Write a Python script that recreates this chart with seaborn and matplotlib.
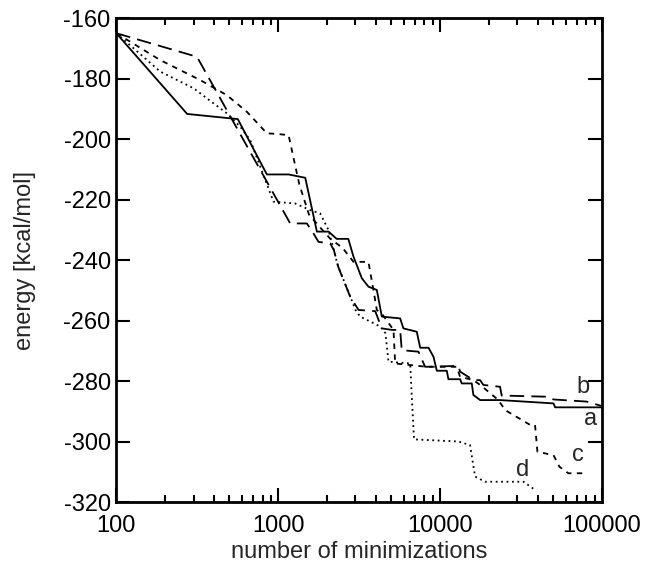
import numpy as np
import pandas as pd
import matplotlib
matplotlib.use("Agg")
import matplotlib.pyplot as plt
from matplotlib.ticker import FixedLocator, FixedFormatter, LogLocator, NullFormatter
import seaborn as sns

# run a (solid)
a_x = [100, 274, 563, 851, 1159, 1469, 1733, 2046, 2296, 2710, 2917, 3283, 3607, 4064,
       4364, 5663, 5932, 7172, 7530, 8478, 9098, 9540, 10990, 11250, 13280, 13600,
       15680, 16040, 17660, 23450, 50120, 51300, 100000]
a_y = [-165, -191.7, -193.4, -211.7, -211.7, -212.8, -230.6, -230.6, -233, -233, -238.9,
       -246, -248.8, -249.9, -258.7, -259.3, -262.6, -263.7, -269, -269, -272, -276.6,
       -276.6, -279.4, -279.4, -280.8, -280.8, -284.6, -286.3, -286.3, -287.4, -288.7, -288.7]

# run b (long dash)
b_x = [100, 315, 1186, 1503, 1651, 1774, 2094, 2206, 2346, 2782, 3133, 3973, 4364, 5036,
       5663, 5794, 7345, 8076, 12970, 13280, 16060, 17660, 18490, 23450, 23990, 46600,
       50120, 80300, 100000]
b_y = [-165, -172.8, -227.9, -227.9, -231.2, -234, -234.5, -236.7, -242.2, -252.1, -256.5,
       -256.9, -262.6, -263.1, -263.1, -269.8, -270.3, -275.3, -275, -276.9, -279.7, -279.7,
       -281.3, -281.9, -284.8, -285.2, -286.1, -286.8, -288.3]

# run c (short dash)
c_x = [100, 187, 330, 482, 641, 851, 981, 1159, 1350, 1550, 1800, 2100, 2500, 2917, 3607,
       3873, 4064, 4400, 5152, 5275, 8260, 12650, 13280, 16060, 18070, 22900, 25180, 35930,
       38550, 39880, 50120, 54450, 61900, 80300]
c_y = [-165, -173.9, -180.5, -185.5, -191, -198.1, -198.3, -198.7, -215, -225, -229, -233,
       -236, -240.6, -240.6, -249.9, -256.5, -258, -263.1, -274.2, -275.3, -275.3, -278.6,
       -279.7, -281.7, -286.3, -289.6, -294.5, -294.5, -303.4, -304.5, -308.3, -310.5, -310.5]

# run d (dotted)
d_x = [100, 187, 300, 482, 583, 671, 935, 1273, 1578, 1816, 2046, 2340, 2782, 3000, 3208,
       4270, 4594, 4797, 6531, 6690, 6900, 13000, 15300, 16440, 18940, 32700, 38550]
d_y = [-165, -177.7, -183.2, -191.5, -195.9, -200.3, -220.7, -221.3, -223.5, -224.6, -230.1,
       -242, -252, -256.5, -258.7, -262, -264.2, -273.6, -274.2, -285.7, -299.3, -300,
       -301.2, -311.6, -313.3, -313.3, -316]

labels = ["a", "b", "c", "d"]
label_x = [85500, 76400, 71100, 32500]
label_y = [-292.6, -282, -304.5, -309.4]

sns.set_style("ticks")
plt.rcParams['font.family'] = ['Liberation Sans', 'DejaVu Sans']
plt.rcParams['axes.unicode_minus'] = False

fig = plt.figure(figsize=(6.46, 5.65), dpi=100)
ax = fig.add_axes([0.18, 0.1115, 0.752, 0.8565])

series = [(a_x, a_y, "-"), (b_x, b_y, (0, (8, 4))), (c_x, c_y, (0, (3, 3))), (d_x, d_y, (0, (1, 2)))]
for xs, ys, ls in series:
    df = pd.DataFrame({"n": xs, "e": ys})
    sns.lineplot(data=df, x="n", y="e", ax=ax, color="black", linewidth=1.3,
                 linestyle=ls, estimator=None, sort=False)

for lab, lx, ly in zip(labels, label_x, label_y):
    ax.text(lx, ly, lab, fontsize=17, ha="center", va="center")

ax.set_xscale("log")
ax.set_xlim(100, 100000)
ax.set_ylim(-320, -160)
ax.xaxis.set_major_locator(FixedLocator([100, 1000, 10000, 100000]))
ax.xaxis.set_major_formatter(FixedFormatter(["100", "1000", "10000", "100000"]))
ax.xaxis.set_minor_locator(LogLocator(base=10, subs=np.arange(2, 10), numticks=20))
ax.xaxis.set_minor_formatter(NullFormatter())
ax.set_yticks(np.arange(-320, -159, 20))

ax.tick_params(which="both", direction="in", top=True, right=True, width=1.5,
               labelsize=17, colors="black")
ax.tick_params(which="major", length=10)
ax.tick_params(which="minor", length=5)
ax.tick_params(axis="x", pad=9)
ax.tick_params(axis="y", pad=4)
for s in ax.spines.values():
    s.set_linewidth(2)
    s.set_color("black")

ax.set_xlabel("number of minimizations", fontsize=17, labelpad=3)
ax.set_ylabel("energy [kcal/mol]", fontsize=17, labelpad=20)

fig.savefig("out.png", dpi=100)
